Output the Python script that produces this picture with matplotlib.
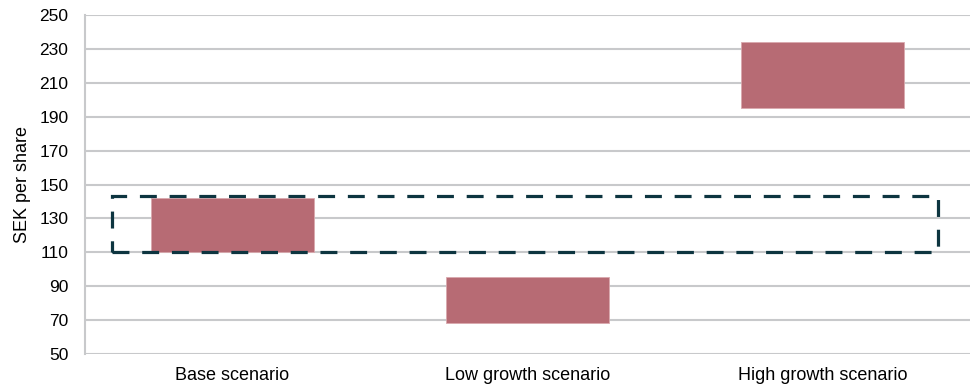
import matplotlib.pyplot as plt
from matplotlib.patches import Rectangle

plt.rcParams['font.family'] = ['Liberation Sans', 'DejaVu Sans']

# valuation ranges per scenario (SEK per share)
scenarios = ['Base scenario', 'Low growth scenario', 'High growth scenario']
low = [110, 68.5, 195]
high = [142, 95.5, 234]

# dashed band around current range
band_low = 110
band_high = 143.5

yticks = list(range(50, 251, 20))

fig = plt.figure(figsize=(9.78, 3.9), dpi=100)
ax = fig.add_axes([0.0869, 0.0923, 0.9049, 0.8692])

x = list(range(len(scenarios)))
heights = [h - l for h, l in zip(high, low)]
ax.bar(x, heights, bottom=low, width=0.553, color='#b76b74',
       edgecolor='#d9a9ae', linewidth=0.6, zorder=3)

band = Rectangle((-0.41, band_low), 2.8, band_high - band_low, fill=False,
                 edgecolor='#0d3540', linewidth=2.3, linestyle=(0, (5.3, 4)),
                 zorder=4)
ax.add_patch(band)

ax.set_xlim(-0.5, 2.5)
ax.set_ylim(50, 250)
ax.set_yticks(yticks)
ax.set_xticks(x)
ax.set_xticklabels(scenarios, fontsize=13)
ax.tick_params(axis='y', length=0, pad=12, labelsize=12.5)
ax.tick_params(axis='x', length=0, pad=9)
ax.set_ylabel('SEK per share', fontsize=13, labelpad=6)

ax.grid(axis='y', color='#c8c9cb', linewidth=1.5, zorder=0)
for s in ['top', 'right', 'bottom']:
    ax.spines[s].set_visible(False)
ax.spines['left'].set_color('#c8c9cb')
ax.spines['left'].set_linewidth(1.5)

fig.savefig('out.png', dpi=100)
